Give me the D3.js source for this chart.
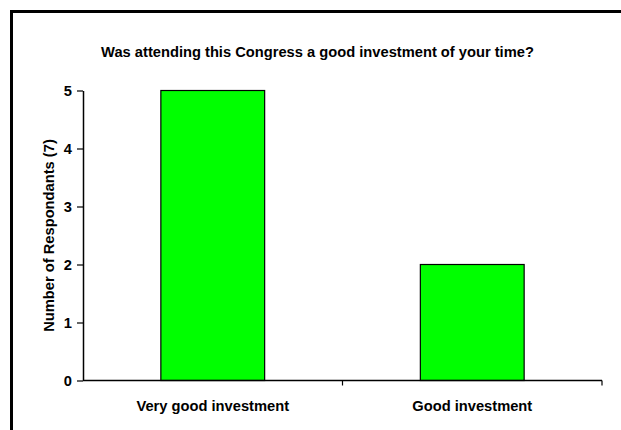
<!DOCTYPE html>
<html>
<head>
<meta charset="utf-8">
<script src="https://cdn.jsdelivr.net/npm/d3@7"></script>
<style>
  html, body { margin: 0; padding: 0; background: #fff; }
  svg { display: block; font-family: "Liberation Sans", Arial, sans-serif; }
</style>
</head>
<body>
<svg id="chart" width="621" height="430"></svg>
<script>
const categories = ["Very good investment", "Good investment"];
const respondents = [5, 2];
const yTicks = [0, 1, 2, 3, 4, 5];
const titleText = "Was attending this Congress a good investment of your time?";
const yLabelText = "Number of Respondants (7)";

const FS = 14.7;
const svg = d3.select("#chart");

// outer frame (runs off the right and bottom edges)
svg.append("rect")
  .attr("x", 11.5).attr("y", 11.5)
  .attr("width", 640).attr("height", 450)
  .attr("fill", "none").attr("stroke", "#000").attr("stroke-width", 3);

const plot = { left: 83, right: 602, top: 90.5, bottom: 380.5 };

const x = d3.scaleBand()
  .domain(categories)
  .range([plot.left, plot.right])
  .paddingInner(0)
  .paddingOuter(0);

const y = d3.scaleLinear()
  .domain([0, 5])
  .range([plot.bottom, plot.top]);

const barW = x.bandwidth() * 0.4;

svg.append("g").selectAll("rect")
  .data(categories)
  .join("rect")
  .attr("x", d => x(d) + (x.bandwidth() - barW) / 2)
  .attr("y", (d, i) => y(respondents[i]))
  .attr("width", barW)
  .attr("height", (d, i) => y(0) - y(respondents[i]))
  .attr("fill", "#00ff00")
  .attr("stroke", "#000")
  .attr("stroke-width", 1.2);

// y axis
const yAxis = svg.append("g")
  .attr("transform", `translate(${plot.left},0)`)
  .call(d3.axisLeft(y).tickValues(yTicks).tickFormat(d3.format("d")).tickSize(6).tickSizeOuter(0).tickPadding(5));
yAxis.select(".domain").attr("stroke", "#000").attr("stroke-width", 1.5);
yAxis.selectAll(".tick line").attr("stroke", "#000").attr("stroke-width", 1.2);
yAxis.selectAll(".tick text")
  .attr("font-family", "Liberation Sans, Arial, sans-serif")
  .attr("font-size", FS).attr("font-weight", "bold").attr("fill", "#000");

// x axis: ticks at category boundaries
const boundaries = [plot.left, plot.left + x.bandwidth(), plot.right];
const xg = svg.append("g");
xg.append("line")
  .attr("x1", plot.left).attr("x2", plot.right)
  .attr("y1", y(0)).attr("y2", y(0))
  .attr("stroke", "#000").attr("stroke-width", 1.5);
xg.selectAll("line.tk")
  .data(boundaries.slice(1))
  .join("line")
  .attr("class", "tk")
  .attr("x1", d => d).attr("x2", d => d)
  .attr("y1", y(0)).attr("y2", y(0) + 5)
  .attr("stroke", "#000").attr("stroke-width", 1.2);
xg.selectAll("text")
  .data(categories)
  .join("text")
  .attr("x", d => x(d) + x.bandwidth() / 2)
  .attr("y", 411)
  .attr("text-anchor", "middle")
  .attr("font-size", FS).attr("font-weight", "bold")
  .text(d => d);

// title
svg.append("text")
  .attr("x", 317.5).attr("y", 57)
  .attr("text-anchor", "middle")
  .attr("font-size", FS).attr("font-weight", "bold")
  .text(titleText);

// y axis label
svg.append("text")
  .attr("transform", `translate(54,${(plot.top + plot.bottom) / 2}) rotate(-90)`)
  .attr("text-anchor", "middle")
  .attr("font-size", FS).attr("font-weight", "bold")
  .text(yLabelText);
</script>
</body>
</html>
